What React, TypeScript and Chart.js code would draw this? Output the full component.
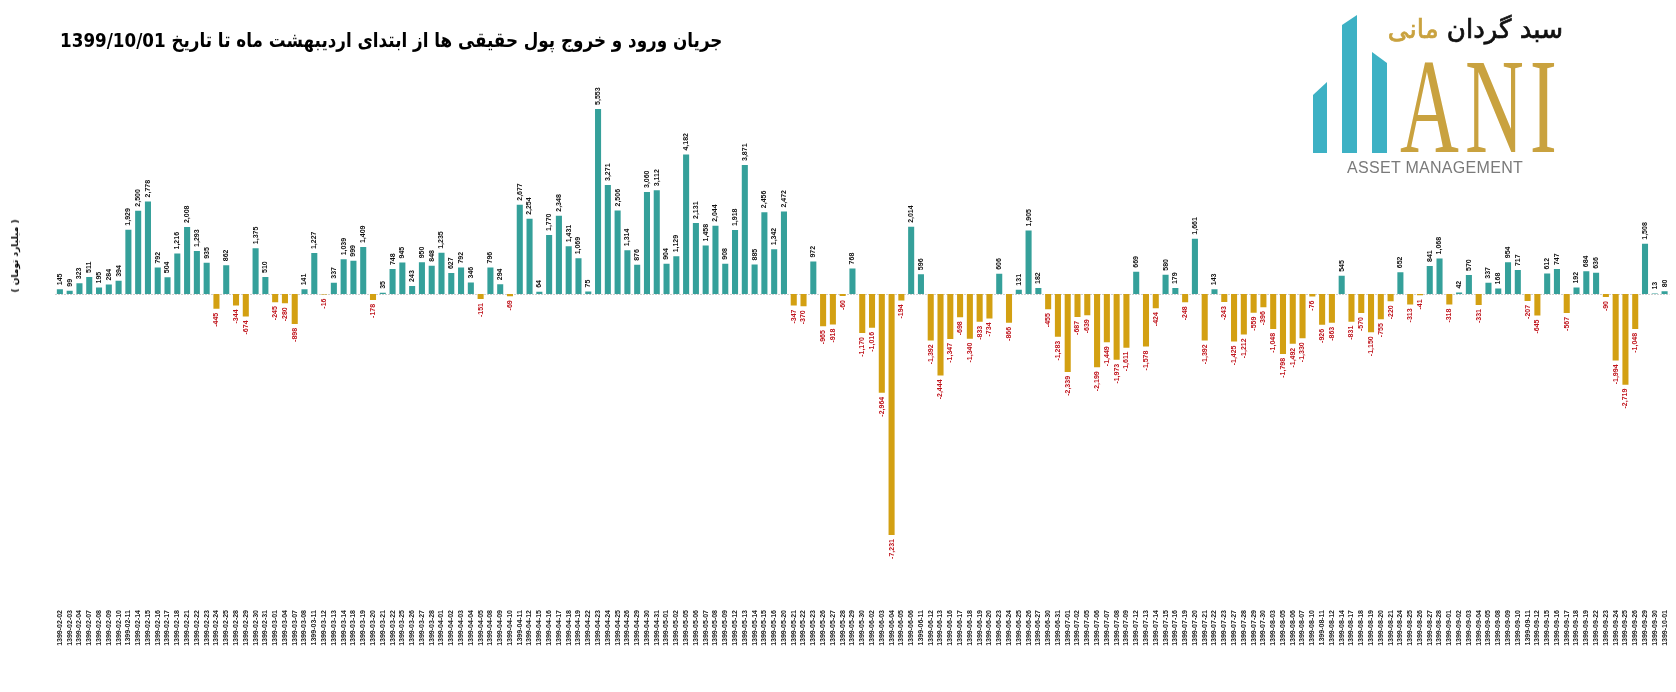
import React, {useEffect, useLayoutEffect, useRef} from 'react';
import {Chart, registerables} from 'chart.js';

Chart.register(...registerables);

// trading days (1399) and net real-money flow, billion tomans
const dates = [
    '1399-02-02', '1399-02-03', '1399-02-04', '1399-02-07', '1399-02-08', '1399-02-09', '1399-02-10', '1399-02-11',
    '1399-02-14', '1399-02-15', '1399-02-16', '1399-02-17', '1399-02-18', '1399-02-21', '1399-02-22', '1399-02-23',
    '1399-02-24', '1399-02-25', '1399-02-28', '1399-02-29', '1399-02-30', '1399-02-31', '1399-03-01', '1399-03-04',
    '1399-03-07', '1399-03-08', '1399-03-11', '1399-03-12', '1399-03-13', '1399-03-14', '1399-03-18', '1399-03-19',
    '1399-03-20', '1399-03-21', '1399-03-22', '1399-03-25', '1399-03-26', '1399-03-27', '1399-03-28', '1399-04-01',
    '1399-04-02', '1399-04-03', '1399-04-04', '1399-04-05', '1399-04-08', '1399-04-09', '1399-04-10', '1399-04-11',
    '1399-04-12', '1399-04-15', '1399-04-16', '1399-04-17', '1399-04-18', '1399-04-19', '1399-04-22', '1399-04-23',
    '1399-04-24', '1399-04-25', '1399-04-26', '1399-04-29', '1399-04-30', '1399-04-31', '1399-05-01', '1399-05-02',
    '1399-05-05', '1399-05-06', '1399-05-07', '1399-05-08', '1399-05-09', '1399-05-12', '1399-05-13', '1399-05-14',
    '1399-05-15', '1399-05-16', '1399-05-20', '1399-05-21', '1399-05-22', '1399-05-23', '1399-05-26', '1399-05-27',
    '1399-05-28', '1399-05-29', '1399-05-30', '1399-06-02', '1399-06-03', '1399-06-04', '1399-06-05', '1399-06-06',
    '1399-06-11', '1399-06-12', '1399-06-13', '1399-06-16', '1399-06-17', '1399-06-18', '1399-06-19', '1399-06-20',
    '1399-06-23', '1399-06-24', '1399-06-25', '1399-06-26', '1399-06-27', '1399-06-30', '1399-06-31', '1399-07-01',
    '1399-07-02', '1399-07-05', '1399-07-06', '1399-07-07', '1399-07-08', '1399-07-09', '1399-07-12', '1399-07-13',
    '1399-07-14', '1399-07-15', '1399-07-16', '1399-07-19', '1399-07-20', '1399-07-21', '1399-07-22', '1399-07-23',
    '1399-07-27', '1399-07-28', '1399-07-29', '1399-07-30', '1399-08-03', '1399-08-05', '1399-08-06', '1399-08-07',
    '1399-08-10', '1399-08-11', '1399-08-12', '1399-08-14', '1399-08-17', '1399-08-18', '1399-08-19', '1399-08-20',
    '1399-08-21', '1399-08-24', '1399-08-25', '1399-08-26', '1399-08-27', '1399-08-28', '1399-09-01', '1399-09-02',
    '1399-09-03', '1399-09-04', '1399-09-05', '1399-09-08', '1399-09-09', '1399-09-10', '1399-09-11', '1399-09-12',
    '1399-09-15', '1399-09-16', '1399-09-17', '1399-09-18', '1399-09-19', '1399-09-22', '1399-09-23', '1399-09-24',
    '1399-09-25', '1399-09-26', '1399-09-29', '1399-09-30', '1399-10-01',
];

const flows = [
    145, 99, 323, 511, 195, 284, 394, 1929,
    2500, 2778, 792, 504, 1216, 2008, 1293, 935,
    -445, 862, -344, -674, 1375, 510, -245, -280,
    -898, 141, 1227, -16, 337, 1039, 999, 1409,
    -178, 35, 748, 945, 243, 950, 848, 1235,
    627, 792, 346, -151, 796, 294, -69, 2677,
    2254, 64, 1770, 2348, 1431, 1069, 75, 5553,
    3271, 2506, 1314, 876, 3060, 3112, 904, 1129,
    4182, 2131, 1458, 2044, 908, 1918, 3871, 885,
    2456, 1342, 2472, -347, -370, 972, -965, -918,
    -60, 768, -1170, -1016, -2964, -7231, -194, 2014,
    596, -1392, -2444, -1347, -698, -1340, -833, -734,
    606, -866, 131, 1905, 182, -455, -1283, -2339,
    -687, -639, -2199, -1449, -1973, -1611, 669, -1578,
    -424, 580, 179, -248, 1661, -1392, 143, -243,
    -1425, -1212, -559, -396, -1048, -1798, -1492, -1330,
    -76, -926, -863, 545, -831, -570, -1150, -755,
    -220, 652, -313, -41, 841, 1068, -318, 42,
    570, -331, 337, 168, 954, 717, -207, -645,
    612, 747, -567, 192, 684, 636, -90, -1994,
    -2719, -1048, 1508, 13, 80,
];

const TEAL = '#35a09a';
const GOLD = '#d3a012';

const zeroLine = {
    id: 'zeroLine',
    beforeDatasetsDraw(chart: any) {
        const {ctx, chartArea} = chart;
        const y = chart.scales.y.getPixelForValue(0);
        ctx.save();
        ctx.strokeStyle = '#cfcfcf';
        ctx.lineWidth = 1;
        ctx.setLineDash([2, 1]);
        ctx.beginPath();
        ctx.moveTo(chartArea.left, Math.round(y) + 0.5);
        ctx.lineTo(chartArea.right, Math.round(y) + 0.5);
        ctx.stroke();
        ctx.restore();
    },
};

const valueLabels = {
    id: 'valueLabels',
    afterDatasetsDraw(chart: any) {
        const ctx = chart.ctx;
        const meta = chart.getDatasetMeta(0);
        ctx.save();
        ctx.font = 'bold 7px "Liberation Sans", Arial, sans-serif';
        ctx.textBaseline = 'middle';
        meta.data.forEach((bar: any, i: number) => {
            const v = flows[i];
            ctx.save();
            ctx.translate(bar.x, v >= 0 ? bar.y - 4 : bar.y + 4);
            ctx.rotate(-Math.PI / 2);
            ctx.textAlign = v >= 0 ? 'left' : 'right';
            ctx.fillStyle = v >= 0 ? '#111111' : '#c0141c';
            ctx.fillText(v.toLocaleString('en-US'), 0, 0);
            ctx.restore();
        });
        ctx.restore();
    },
};

const BarChart = () => {
    const canvasRef = useRef<HTMLCanvasElement>(null);

    useEffect(() => {
        if (!canvasRef.current) return;
        const chart = new Chart(canvasRef.current, {
            type: 'bar',
            data: {
                labels: dates,
                datasets: [{
                    data: flows,
                    backgroundColor: flows.map(v => (v >= 0 ? TEAL : GOLD)),
                    barPercentage: 0.62,
                    categoryPercentage: 1,
                }],
            },
            options: {
                animation: false,
                responsive: true,
                maintainAspectRatio: false,
                layout: {padding: {left: 55, right: 6, top: 94, bottom: 0}},
                plugins: {legend: {display: false}, tooltip: {enabled: false}},
                scales: {
                    x: {
                        grid: {display: false},
                        border: {display: false},
                        ticks: {
                            autoSkip: false,
                            minRotation: 90,
                            maxRotation: 90,
                            padding: 3,
                            color: '#222',
                            font: {family: '"Liberation Sans", Arial, sans-serif', size: 7, weight: 'bold'},
                        },
                        afterFit: (scale: any) => {
                            scale.height = 93;
                        },
                    },
                    y: {display: false, min: -9150, max: 6000},
                },
            },
            plugins: [zeroLine, valueLabels],
        });
        return () => chart.destroy();
    }, []);

    return <canvas ref={canvasRef}/>;
};

// squeeze the title into the width it has in the original
const Title = () => {
    const ref = useRef<HTMLDivElement>(null);
    useLayoutEffect(() => {
        const el = ref.current;
        if (!el) return;
        el.style.transform = 'none';
        const w = el.offsetWidth;
        if (w > 0) el.style.transform = `scaleX(${662 / w})`;
    }, []);
    return (
        <div ref={ref} dir="rtl" style={{
            position: 'absolute', right: 954, top: 28, whiteSpace: 'nowrap',
            font: 'bold 20px "DejaVu Sans", sans-serif', color: '#000', transformOrigin: 'right center',
        }}>
            جریان ورود و خروج پول حقیقی ها از ابتدای اردیبهشت ماه تا تاریخ 1399/10/01
        </div>
    );
};

const bar = (left: number, width: number, topL: number, topR: number, bottom: number) => (
    <div style={{
        position: 'absolute', left, top: Math.min(topL, topR), width, height: bottom - Math.min(topL, topR),
        background: '#3db1c4',
        clipPath: `polygon(0 ${topL - Math.min(topL, topR)}px, 100% ${topR - Math.min(topL, topR)}px, 100% 100%, 0 100%)`,
    }}/>
);

export default function App() {
    return (
        <div style={{position: 'absolute', left: 0, top: 0, width: 1676, height: 692, background: '#fff', overflow: 'hidden'}}>
            <div style={{position: 'absolute', inset: 0}}>
                <BarChart/>
            </div>
            <Title/>
            <div dir="rtl" style={{
                position: 'absolute', left: 15, top: 256, whiteSpace: 'nowrap',
                transform: 'translate(-50%, -50%) rotate(-90deg)',
                font: 'bold 9px "DejaVu Sans", sans-serif', color: '#000',
            }}>
                ( میلیارد تومان )
            </div>
            {bar(1313, 14, 95, 82, 153)}
            {bar(1342, 15, 25, 15, 153)}
            {bar(1372, 15, 52, 63, 153)}
            <div dir="rtl" style={{
                position: 'absolute', right: 1676 - 1563, top: 14, whiteSpace: 'nowrap',
                font: '26px "DejaVu Sans", sans-serif', color: '#111', WebkitTextStroke: '0.7px currentColor',
            }}>
                <span>سبد گردان </span><span style={{color: '#c9a23f', letterSpacing: 2}}>مانی</span>
            </div>
            <div style={{
                position: 'absolute', left: 1400, top: 38, whiteSpace: 'nowrap',
                font: '136px "Liberation Serif", serif', lineHeight: '136px', letterSpacing: 10,
                color: '#c9a23f', transform: 'scaleX(0.6)', transformOrigin: 'left top',
            }}>
                ANI
            </div>
            <div style={{
                position: 'absolute', left: 1347, top: 160, whiteSpace: 'nowrap',
                font: '16px "Liberation Sans", Arial, sans-serif', lineHeight: '16px', letterSpacing: 0.3,
                color: '#7a7a7a',
            }}>
                ASSET MANAGEMENT
            </div>
        </div>
    );
}
